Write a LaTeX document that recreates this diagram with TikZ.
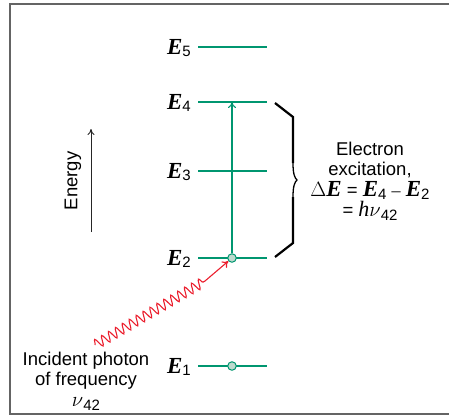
\documentclass[tikz,border=0pt]{standalone}
\usepackage{fontspec}
\setmainfont{Liberation Sans}
\newfontfamily\serifit{Liberation Serif}
\usetikzlibrary{decorations.pathmorphing,arrows.meta}
\definecolor{lvl}{RGB}{0,150,112}
\definecolor{dotfill}{RGB}{190,218,206}
\definecolor{photon}{RGB}{235,30,45}
\definecolor{frame}{RGB}{100,100,100}
\newcommand{\EE}{{\fontsize{23}{23}\selectfont\serifit\bfseries\itshape E}}
\newcommand{\ssub}[1]{\raisebox{-0.4ex}{\fontsize{15}{15}\selectfont #1}}
\begin{document}
\begin{tikzpicture}[x=1pt,y=-1pt,
  txt/.style={font=\fontsize{18.5}{20.5}\selectfont, inner sep=0pt, align=center},
  elab/.style={inner sep=0pt, anchor=east},
  level/.style={draw=lvl, line width=1.1pt},
  dot/.style={circle, draw=lvl, fill=dotfill, line width=1pt, minimum size=8.5pt, inner sep=0pt}]
\useasboundingbox (0,0) rectangle (449,415);
% frame
\draw[frame, line width=1.1pt] (449,4) -- (10,4) -- (10,414) -- (449,414);
% level endpoints
\foreach \n/\y in {1/366,2/258,3/171,4/102,5/47}{
  \coordinate (L\n) at (198,\y);
  \coordinate (R\n) at (267,\y);
  \node[elab] (E\n) at (191,\y+1) {\EE\ssub{\n}};
  \draw[level] (L\n) -- (R\n);
}
\coordinate (T4) at (232,102);
\node[dot] (d2) at (232,258) {};
\node[dot] (d1) at (232,366) {};
% excitation arrow
\draw[lvl, line width=1.1pt, -{To[length=6pt,width=8pt]}] (d2) -- (T4);
% energy arrow
\coordinate (en1) at (91,232);
\coordinate (en2) at (91,129);
\draw[black!85, line width=1pt, -{To[length=6pt,width=7pt]}] (en1) -- (en2);
\node[txt, rotate=90] (energy) at (73,181) {Energy};
% brace
\draw[line width=2.2pt, line join=miter] (275,103) -- (293,117) -- (293,163);
\draw[line width=1.3pt] (293,163) .. controls (293,175) and (295,178) .. (297,180) .. controls (295,182) and (293,185) .. (293,197);
\draw[line width=2.2pt, line join=miter] (293,197) -- (293,243) -- (275,257);
\node[txt] (exc) at (370,181) {Electron\\excitation,\\
  {\fontsize{20}{20}\selectfont\serifit$\Delta$}\EE{} = \EE\ssub{4} {\fontsize{18}{20}\selectfont\serifit\textendash} \EE\ssub{2}\\
  = {\fontsize{22}{20}\selectfont\serifit\itshape h\/$\nu$}\ssub{42}};
% photon
\coordinate (p0) at (95,345);
\coordinate (p1) at (205,281);
\draw[photon, line width=1.1pt, decorate, decoration={snake, segment length=8pt, amplitude=5pt}] (p0) -- (p1);
\draw[photon, line width=1.1pt, -{To[length=6pt,width=8pt]}] (p1) -- (d2);
\node[txt] (inc) at (86,381) {Incident photon\\of frequency\\{\fontsize{22}{20}\selectfont$\nu$}\ssub{42}};
\end{tikzpicture}
\end{document}
